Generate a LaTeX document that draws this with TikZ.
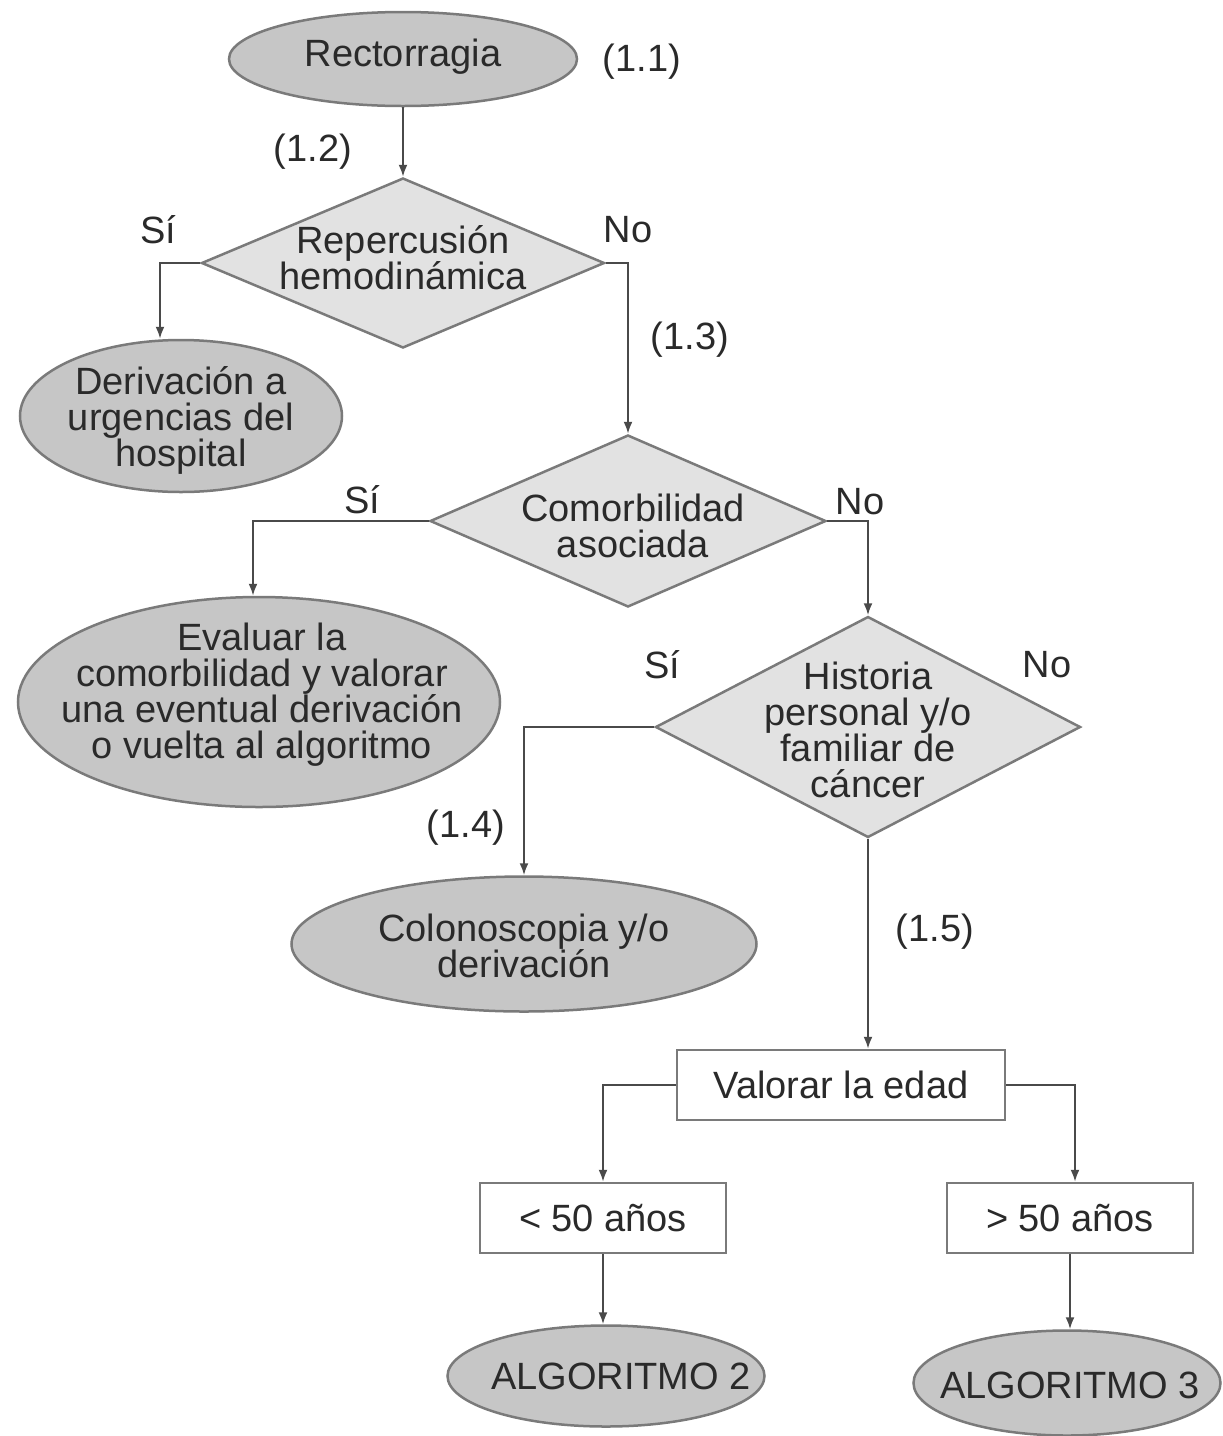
\documentclass[tikz,border=0pt]{standalone}
\usepackage{fontspec}
\setmainfont{Liberation Sans}
\usetikzlibrary{shapes.geometric,arrows.meta}
\definecolor{ellfill}{HTML}{C6C6C6}
\definecolor{diafill}{HTML}{E2E2E2}
\definecolor{edgecol}{HTML}{7A7A7A}
\definecolor{linecol}{HTML}{4A4A4A}
\definecolor{txtcol}{HTML}{2A2A2A}
\begin{document}
\begin{tikzpicture}[x=1pt,y=-1pt,
  every node/.style={font=\fontsize{38}{36}\selectfont, text=txtcol, align=center},
  ell/.style={ellipse, draw=edgecol, line width=2.5pt, fill=ellfill, inner sep=0pt},
  dia/.style={diamond, draw=edgecol, line width=2.5pt, fill=diafill, inner sep=0pt},
  boxn/.style={rectangle, draw=edgecol, line width=2.5pt, fill=white, inner sep=0pt},
  lbl/.style={inner sep=0pt},
  arr/.style={draw=linecol, line width=2pt, -{Latex[length=12pt,width=9pt]}}]
\useasboundingbox (0,0) rectangle (1223,1436);
\fill[white] (0,0) rectangle (1223,1436);

% shapes
\node[ell, minimum width=348pt, minimum height=94pt] (e1) at (403,59) {};
\node[lbl] at (403,57) {Rectorragia};
\node[dia, minimum width=403pt, minimum height=170pt] (d1) at (403,263) {};
\node[lbl] at (403,258) {Repercusión\\hemodinámica};
\node[ell, minimum width=322pt, minimum height=152pt] (e2) at (181,416) {};
\node[lbl] at (181,420) {Derivación a\\urgencias del\\hospital};
\node[dia, minimum width=396pt, minimum height=172pt] (d2) at (628,521) {};
\node[lbl] at (633,526) {Comorbilidad\\asociada};
\node[ell, minimum width=482pt, minimum height=210pt] (e3) at (259,702) {};
\node[lbl] at (262,695) {Evaluar la\\comorbilidad y valorar\\una eventual derivación\\o vuelta al algoritmo};
\node[dia, minimum width=425pt, minimum height=221pt] (d3) at (868,727) {};
\node[lbl] at (868,730) {Historia\\personal y/o\\familiar de\\cáncer};
\node[ell, minimum width=465pt, minimum height=135pt] (e4) at (524,944) {};
\node[lbl] at (524,946) {Colonoscopia y/o\\derivación};
\node[boxn, minimum width=328pt, minimum height=70pt] (b1) at (841,1085) {Valorar la edad};
\node[boxn, minimum width=246pt, minimum height=70pt] (b2) at (603,1218) {< 50 años};
\node[boxn, minimum width=246pt, minimum height=70pt] (b3) at (1070,1218) {> 50 años};
\node[ell, minimum width=317pt, minimum height=101pt] (e5) at (606,1376) {};
\node[lbl] at (621,1376) {ALGORITMO 2};
\node[ell, minimum width=307pt, minimum height=105pt] (e6) at (1067,1383) {};
\node[lbl] at (1070,1385) {ALGORITMO 3};

% connectors
\draw[arr] (e1.south) -- (d1.north);
\draw[arr] (d1.west) -| ([xshift=-21pt]e2.north);
\draw[arr] (d1.east) -| (d2.north);
\draw[arr] (d2.west) -| ([xshift=-6pt]e3.north);
\draw[arr] (d2.east) -| (d3.north);
\draw[arr] (d3.west) -| (e4.north);
\draw[arr] (d3.south) -- (d3.south |- b1.north);
\draw[arr] (b1.west) -| (b2.north);
\draw[arr] (b1.east) -| ([xshift=5pt]b3.north);
\draw[arr] (b2.south) -- (b2.south |- e5.north);
\draw[arr] (b3.south) -- (b3.south |- e6.north);

% labels
\node[lbl] at (642,62) {(1.1)};
\node[lbl] at (313,152) {(1.2)};
\node[lbl] at (158,230) {Sí};
\node[lbl] at (628,230) {No};
\node[lbl] at (690,340) {(1.3)};
\node[lbl] at (362,500) {Sí};
\node[lbl] at (860,502) {No};
\node[lbl] at (662,665) {Sí};
\node[lbl] at (1047,665) {No};
\node[lbl] at (466,828) {(1.4)};
\node[lbl] at (935,932) {(1.5)};
\end{tikzpicture}
\end{document}
